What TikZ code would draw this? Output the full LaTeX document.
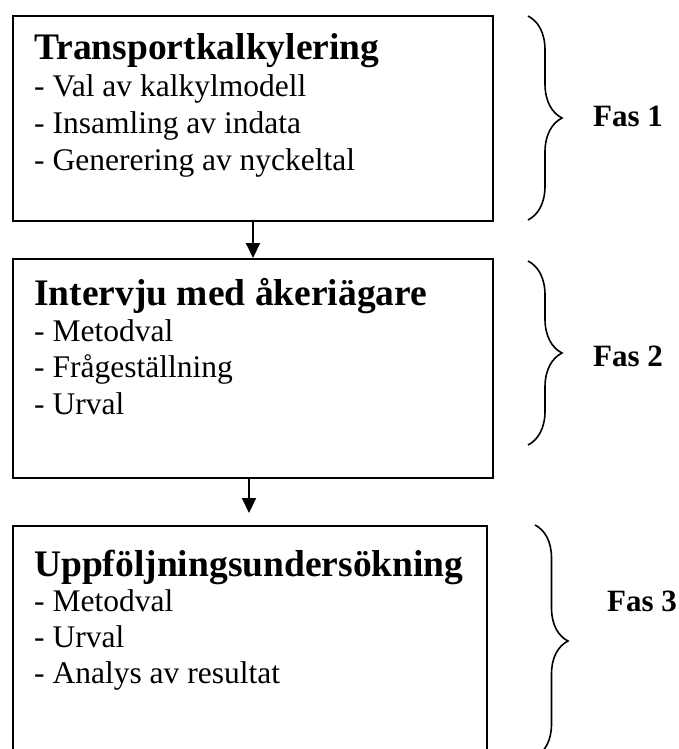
\documentclass[tikz,border=0pt]{standalone}
\usepackage{fontspec}
\setmainfont{Liberation Serif}
\usetikzlibrary{arrows.meta,decorations.pathreplacing}

\tikzset{
  phasebox/.style={draw, line width=2pt, inner sep=0pt, anchor=north west},
  headtext/.style={anchor=base west, inner sep=0pt, font=\bfseries\fontsize{37.5}{37.5}\selectfont},
  itemtext/.style={anchor=base west, inner sep=0pt, font=\fontsize{31.5}{32}\selectfont},
  phaselabel/.style={anchor=center, inner sep=0pt, font=\bfseries\fontsize{31}{31}\selectfont},
  flow/.style={line width=2pt, -{Triangle[width=14pt,length=15pt]}},
  curly/.style={line width=1.6pt, decorate, decoration={brace, amplitude=34pt, aspect=0.5}},
}

\begin{document}
\begin{tikzpicture}[x=1pt,y=-1pt]
  \useasboundingbox (0,0) rectangle (679,749);
  \clip (0,0) rectangle (679,749);

  % three phase boxes
  \node[phasebox, minimum width=480pt, minimum height=205pt] (b1) at (12,15) {};
  \node[phasebox, minimum width=480pt, minimum height=219pt] (b2) at (12,258) {};
  \node[phasebox, minimum width=474pt, minimum height=240pt] (b3) at (12,525) {};

  % box contents
  \node[headtext] (t1) at (34,60) {Transportkalkylering};
  \node[itemtext] (i11) at (34,97) {- Val av kalkylmodell};
  \node[itemtext] (i12) at (34,133.5) {- Insamling av indata};
  \node[itemtext] (i13) at (34,170) {- Generering av nyckeltal};

  \node[headtext] (t2) at (34,305) {Intervju med åkeriägare};
  \node[itemtext] (i21) at (34,341) {- Metodval};
  \node[itemtext] (i22) at (34,377.5) {- Frågeställning};
  \node[itemtext] (i23) at (34,414) {- Urval};

  \node[headtext] (t3) at (34,576) {Uppföljningsundersökning};
  \node[itemtext] (i31) at (34,611) {- Metodval};
  \node[itemtext] (i32) at (34,647) {- Urval};
  \node[itemtext] (i33) at (34,683) {- Analys av resultat};

  % flow arrows
  \coordinate (e2) at (249,513);
  \draw[flow] (b1.south) -- (b2.north);
  \draw[flow] (b2.south -| e2) -- (e2);

  % phase braces
  \coordinate (p1a) at (528,16);
  \coordinate (p1b) at (528,220);
  \coordinate (p2a) at (528,261);
  \coordinate (p2b) at (528,445);
  \coordinate (p3a) at (535,525);
  \coordinate (p3b) at (535,757);
  \draw[curly] (p1a) -- (p1b);
  \draw[curly] (p2a) -- (p2b);
  \draw[curly, decoration={amplitude=33pt}] (p3a) -- (p3b);

  \node[phaselabel] (f1) at (628,116) {Fas 1};
  \node[phaselabel] (f2) at (628,356) {Fas 2};
  \node[phaselabel] (f3) at (642,601) {Fas 3};
\end{tikzpicture}
\end{document}
